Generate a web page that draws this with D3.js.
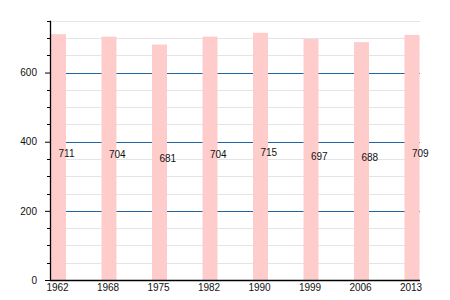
<!DOCTYPE html>
<html>
<head>
<meta charset="utf-8">
<script src="https://cdn.jsdelivr.net/npm/d3@7"></script>
<style>
  body { margin: 0; background: #fff; }
  text { font-family: "Liberation Sans", Arial, sans-serif; }
</style>
</head>
<body>
<div id="wrapper"></div>
<script>
const years = ["1962", "1968", "1975", "1982", "1990", "1999", "2006", "2013"]
const population = [711, 704, 681, 704, 715, 697, 688, 709]
const yTicks = [0, 200, 400, 600]
const yMinorTicks = d3.range(0, 751, 50)
const blueLines = [200, 400, 600]

const dimensions = {
    width: 450,
    height: 300,
    left: 50,
    right: 420,
    top: 20.7,
    bottom: 280,
}

const svg = d3.select("#wrapper")
    .append("svg")
    .attr("width", dimensions.width)
    .attr("height", dimensions.height)

const xScale = d3.scalePoint()
    .domain(years)
    .range([58.5, 412])

const yScale = d3.scaleLinear()
    .domain([0, 750])
    .range([dimensions.bottom, dimensions.top])

// light grid every 50
svg.append("g")
    .selectAll("line")
    .data(yMinorTicks.filter(d => d > 0))
    .join("line")
    .attr("x1", dimensions.left)
    .attr("x2", dimensions.right)
    .attr("y1", d => Math.round(yScale(d)) + 0.5)
    .attr("y2", d => Math.round(yScale(d)) + 0.5)
    .attr("stroke", "#e4e4e4")
    .attr("stroke-width", 1)

// blue reference lines
svg.append("g")
    .selectAll("line")
    .data(blueLines)
    .join("line")
    .attr("x1", dimensions.left)
    .attr("x2", dimensions.right)
    .attr("y1", d => Math.round(yScale(d)) + 0.5)
    .attr("y2", d => Math.round(yScale(d)) + 0.5)
    .attr("stroke", "#1f64a3")
    .attr("stroke-width", 1.2)

// bars
const barWidth = 15
svg.append("g")
    .selectAll("rect")
    .data(population)
    .join("rect")
    .attr("x", (d, i) => xScale(years[i]) - barWidth / 2)
    .attr("y", d => yScale(d))
    .attr("width", barWidth)
    .attr("height", d => yScale(0) - yScale(d))
    .attr("fill", "#ffcccc")

// value labels at half height
svg.append("g")
    .selectAll("text")
    .data(population)
    .join("text")
    .attr("x", (d, i) => xScale(years[i]))
    .attr("y", d => yScale(d / 2))
    .attr("font-size", 10)
    .attr("fill", "#111")
    .text(d => d)

// y axis
const yAxis = svg.append("g")
    .attr("transform", `translate(${dimensions.left},0)`)
    .call(d3.axisLeft(yScale).tickValues(yTicks).tickSize(5).tickPadding(8).tickSizeOuter(0))
yAxis.select(".domain").remove()
yAxis.selectAll("text").attr("font-size", 10).attr("font-family", null).attr("fill", "#111")
yAxis.selectAll("line").attr("stroke", "#000")

// minor ticks on the y axis
svg.append("g")
    .selectAll("line")
    .data(yMinorTicks.filter(d => !yTicks.includes(d)))
    .join("line")
    .attr("x1", dimensions.left - 3)
    .attr("x2", dimensions.left)
    .attr("y1", d => Math.round(yScale(d)) + 0.5)
    .attr("y2", d => Math.round(yScale(d)) + 0.5)
    .attr("stroke", "#000")

svg.append("line")
    .attr("x1", dimensions.left + 0.5)
    .attr("x2", dimensions.left + 0.5)
    .attr("y1", dimensions.top)
    .attr("y2", dimensions.bottom)
    .attr("stroke", "#000")
    .attr("stroke-width", 1.3)

// x axis
const xAxis = svg.append("g")
    .attr("transform", `translate(0,${dimensions.bottom})`)
    .call(d3.axisBottom(xScale).tickSize(0).tickPadding(4))
xAxis.select(".domain").remove()
xAxis.selectAll("text").attr("font-size", 10).attr("font-family", null).attr("fill", "#111").attr("dx", -1.5)

svg.append("line")
    .attr("x1", dimensions.left)
    .attr("x2", dimensions.right)
    .attr("y1", dimensions.bottom + 0.5)
    .attr("y2", dimensions.bottom + 0.5)
    .attr("stroke", "#000")
    .attr("stroke-width", 1.3)
</script>
</body>
</html>
